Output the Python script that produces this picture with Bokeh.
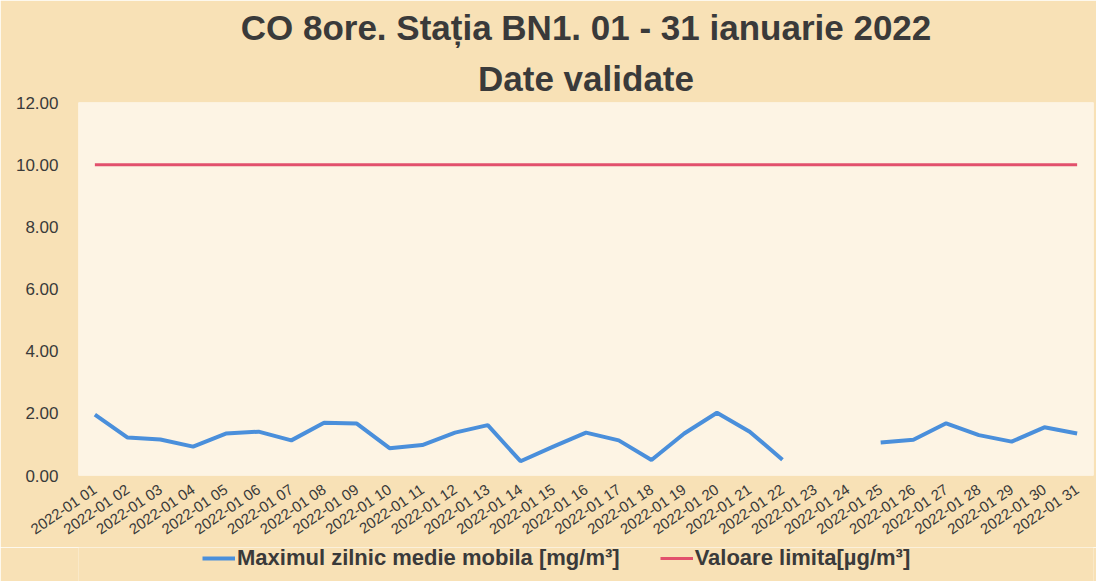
import numpy as np
from bokeh.plotting import figure
from bokeh.layouts import column
from bokeh.models import (ColumnDataSource, FactorRange, Range1d, FixedTicker,
                          NumeralTickFormatter, Title, Legend, LegendItem)
from bokeh.embed import file_html
from bokeh.resources import INLINE

# ---- data ----
days = ["2022-01 %02d" % d for d in range(1, 32)]
max_daily = [1.96, 1.22, 1.16, 0.93, 1.35, 1.41, 1.13, 1.70, 1.67, 0.88,
             0.98, 1.38, 1.62, 0.46, 0.93, 1.38, 1.13, 0.50, 1.35, 2.02,
             1.41, 0.51, None, None, 1.06, 1.15, 1.68, 1.30, 1.09, 1.55, 1.35]
limit_value = [10.0] * 31
y_ticks = [0, 2, 4, 6, 8, 10, 12]

title_1 = "CO 8ore. Stația BN1. 01 - 31 ianuarie 2022"
title_2 = "Date validate"
series_1 = "Maximul zilnic medie mobila [mg/m³]"
series_2 = "Valoare limita[µg/m³]"

FONT = "Liberation Sans"
OUTER = "#f8e1b6"
INNER = "#fdf4e4"
BLUE = "#4a8fdb"
RED = "#e2506c"
TXT = "#3a3a3a"

src = ColumnDataSource(dict(
    day=days,
    val=[np.nan if v is None else v for v in max_daily],
    lim=limit_value,
))

xr = FactorRange(*days, range_padding=0)
p = figure(frame_width=1015, frame_height=373, x_range=xr,
           y_range=Range1d(0, 12), output_backend="svg", toolbar_location=None,
           min_border_left=78, min_border_right=3, min_border_top=102,
           min_border_bottom=0)
p.background_fill_color = INNER
p.border_fill_color = OUTER
p.outline_line_color = None
p.grid.visible = False

r1 = p.line("day", "val", source=src, line_color=BLUE, line_width=4)
r2 = p.line("day", "lim", source=src, line_color=RED, line_width=3)

# axes
p.yaxis.ticker = FixedTicker(ticks=y_ticks)
p.yaxis.formatter = NumeralTickFormatter(format="0.00")
for ax in (p.xaxis[0], p.yaxis[0]):
    ax.axis_line_color = None
    ax.major_tick_line_color = None
    ax.minor_tick_line_color = None
    ax.major_label_text_font = FONT
    ax.major_label_text_color = TXT
p.yaxis.major_label_text_font_size = "17px"
p.yaxis.major_label_standoff = 14
p.xaxis.major_label_text_font_size = "15px"
p.xaxis.major_label_orientation = 0.6
p.xaxis.major_label_standoff = 6

# titles
t2 = Title(text=title_2, align="center", text_font=FONT, text_font_size="35px",
           text_font_style="bold", text_color=TXT)
t1 = Title(text=title_1, align="center", text_font=FONT, text_font_size="35px",
           text_font_style="bold", text_color=TXT)
p.add_layout(t2, "above")
p.add_layout(t1, "above")

# legend strip below the chart (same series, drawn out of view; only the legend shows)
lg = figure(width=1096, height=37, x_range=xr, y_range=Range1d(100, 101),
            output_backend="svg", toolbar_location=None,
            x_axis_type=None, y_axis_type=None, min_border=0)
lg.background_fill_color = OUTER
lg.border_fill_color = OUTER
lg.outline_line_color = None
lg.grid.visible = False
g1 = lg.line("day", "val", source=src, line_color=BLUE, line_width=4)
g2 = lg.line("day", "lim", source=src, line_color=RED, line_width=3)

legend = Legend(items=[LegendItem(label=series_1, renderers=[g1]),
                       LegendItem(label=series_2, renderers=[g2])],
                orientation="horizontal", location=(124, 13),
                background_fill_alpha=0, border_line_alpha=0,
                label_text_font=FONT, label_text_font_size="22px",
                label_text_font_style="bold", label_text_color=TXT,
                glyph_width=33, glyph_height=20, spacing=40, label_standoff=2,
                margin=0, padding=0)
lg.add_layout(legend, "center")

layout = column(p, lg, spacing=0)
open("out.html", "w").write(file_html(layout, INLINE))
